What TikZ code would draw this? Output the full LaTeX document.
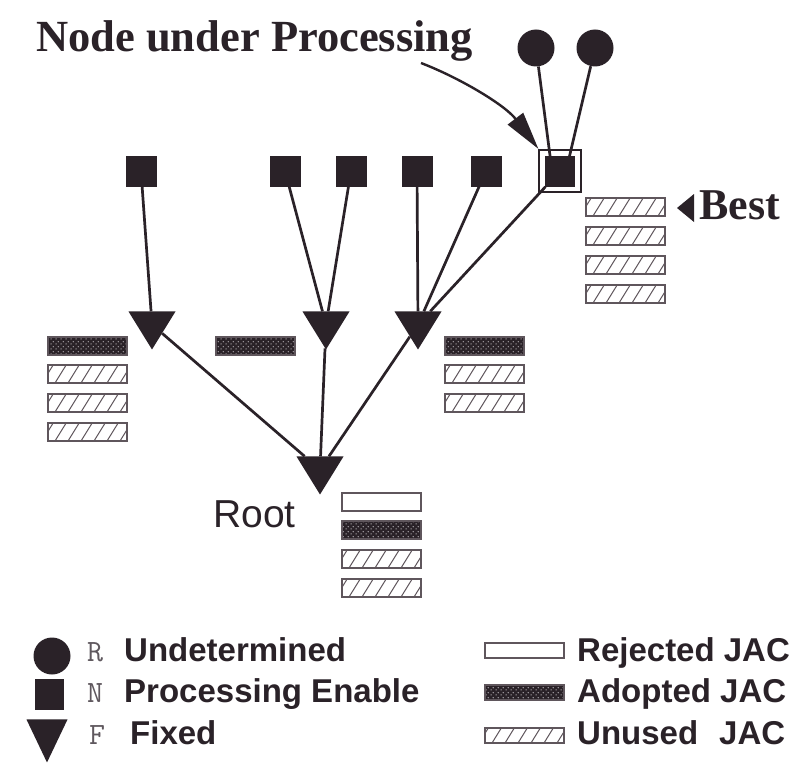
\documentclass[tikz,border=0pt]{standalone}
\usepackage{fontspec}
\usetikzlibrary{shapes.geometric,arrows.meta,patterns.meta,backgrounds,fit}
\newfontfamily\serifface{Liberation Serif}
\newfontfamily\sansface{Liberation Sans}
\definecolor{ink}{RGB}{42,34,40}
\definecolor{frameink}{RGB}{95,86,92}
\definecolor{dotc}{RGB}{190,186,190}
\definecolor{lettergray}{RGB}{95,88,94}
\tikzdeclarepattern{name=jacdots, type=uncolored,
  bounding box={(0pt,0pt) and (5pt,5pt)}, tile size={(5pt,5pt)},
  code={\pgfpathcircle{\pgfpoint{1.25pt}{1.25pt}}{0.75pt}\pgfpathcircle{\pgfpoint{3.75pt}{3.75pt}}{0.75pt}\pgfusepath{fill}}}
\tikzset{
  jach/.store in=\jach, jach=18,
  leaf/.style={circle, fill=ink, minimum size=37pt, inner sep=0pt},
  proc/.style={rectangle, fill=ink, minimum width=31pt, minimum height=31pt, inner sep=0pt},
  fixed/.style={isosceles triangle, isosceles triangle stretches, shape border rotate=270,
     fill=ink, inner sep=0pt, minimum width=47pt, minimum height=38pt},
  conn/.style={draw=ink, line width=2.7pt},
  boxframe/.style={draw=frameink, line width=1.1pt},
  hatchline/.style={draw=frameink, line width=1pt},
  titlefont/.style={font=\serifface\bfseries\fontsize{44.5}{48}\selectfont, text=ink},
  bestfont/.style={font=\serifface\bfseries\fontsize{44}{48}\selectfont, text=ink},
  rootfont/.style={font=\sansface\fontsize{39}{44}\selectfont, text=ink},
  legfont/.style={font=\sansface\bfseries\fontsize{33}{36}\selectfont, text=ink},
  letfont/.style={font=\ttfamily\fontsize{31}{34}\selectfont, text=lettergray},
  pics/rej/.style={code={\draw[boxframe, fill=white] (0,0) rectangle (79,\jach);}},
  pics/adp/.style={code={
     \fill[ink] (0,0) rectangle (79,\jach);
     \fill[pattern=jacdots, pattern color=dotc] (0,0) rectangle (79,\jach);
     \draw[boxframe] (0,0) rectangle (79,\jach);}},
  pics/unu/.style={code={
     \begin{scope}
       \clip (0,0) rectangle (79,\jach);
       \foreach \k in {0,...,6} {\draw[hatchline] (\k*13-6,\jach) -- ++(0.62*\jach,-\jach);}
     \end{scope}
     \draw[boxframe] (0,0) rectangle (79,\jach);}},
}
\begin{document}
\begin{tikzpicture}[x=1pt,y=-1pt]
\useasboundingbox (0,0) rectangle (799,765);

% title and arrow
\node[titlefont, anchor=base west, inner sep=0pt] (title) at (36,52) {Node under Processing};
\coordinate (arrowstart) at (421,63);

% undetermined nodes
\node[leaf] (r1) at (536,48) {};
\node[leaf] (r2) at (595,48) {};

% processing-enable nodes
\node[proc] (p1) at (141,171) {};
\node[proc] (p2) at (285,171) {};
\node[proc] (p3) at (351,171) {};
\node[proc] (p4) at (417,171) {};
\node[proc] (p5) at (486,171) {};
\node[proc, minimum width=30pt, minimum height=31pt] (p6) at (560,171) {};
\node[draw=ink, line width=1.8pt, fit=(p6), inner sep=5.5pt] (frame) {};

% fixed nodes
\node[fixed, anchor=apex] (t1) at (152,350) {};
\node[fixed, anchor=apex] (t2) at (326,350) {};
\node[fixed, anchor=apex] (t3) at (418,350) {};
\node[fixed, anchor=apex] (root) at (320,495) {};

\begin{pgfonlayer}{background}
\fill[white] (0,0) rectangle (799,765);
\draw[conn] (r1) -- ([xshift=-8pt]p6.center);
\draw[conn] (r2) -- ([xshift=6pt]p6.center);
\draw[conn] (p1) -- (t1);
\draw[conn] (p2) -- (t2);
\draw[conn] (p3) -- (t2);
\draw[conn] (p4) -- (t3);
\draw[conn] (p5) -- (t3);
\draw[conn] (p6) -- (t3);
\draw[conn] (t1) -- (root);
\draw[conn] (t2) -- (root);
\draw[conn] (t3) -- (root);
\end{pgfonlayer}

\draw[draw=ink, line width=2.4pt, -{Triangle[length=38pt,width=19pt]}]
  (arrowstart) .. controls (460,78) and (505,105) .. (frame.north west);

% JAC boxes
\pic at (48,337) {adp};
\pic at (48,365) {unu};
\pic at (48,394) {unu};
\pic at (48,423) {unu};
\pic at (216,337) {adp};
\pic at (445,337) {adp};
\pic at (445,365) {unu};
\pic at (445,394) {unu};
\pic at (586,198) {unu};
\pic at (586,227) {unu};
\pic at (586,256) {unu};
\pic at (586,285) {unu};
\pic at (342,493) {rej};
\pic at (342,521) {adp};
\pic at (342,550) {unu};
\pic at (342,579) {unu};

% labels
\fill[ink] (677,208) -- (694,194) -- (694,222) -- cycle;
\node[bestfont, anchor=base west, inner sep=0pt] (best) at (699,219) {Best};
\node[rootfont, anchor=base west, inner sep=0pt] (rootlbl) at (213,527) {Root};

% legend
\node[leaf, minimum size=37pt] (lr) at (52,656) {};
\node[proc, minimum width=29pt, minimum height=31pt] (ln) at (49,694) {};
\node[fixed, anchor=apex, minimum width=41pt, minimum height=43pt] (lf) at (47,763) {};
\node[letfont, anchor=base west, inner sep=0pt] (lrt) at (87,661) {R};
\node[letfont, anchor=base west, inner sep=0pt] (lnt) at (87,702) {N};
\node[letfont, anchor=base west, inner sep=0pt] (lft) at (89,744) {F};
\node[legfont, anchor=base west, inner sep=0pt] (lrl) at (124,661) {Undetermined};
\node[legfont, anchor=base west, inner sep=0pt] (lnl) at (124,702) {Processing Enable};
\node[legfont, anchor=base west, inner sep=0pt] (lfl) at (130,744) {Fixed};

\pic[jach=15] at (485,643) {rej};
\pic[jach=15] at (485,685) {adp};
\pic[jach=15] at (485,728) {unu};
\node[legfont, anchor=base west, inner sep=0pt] (l1) at (577,661) {Rejected JAC};
\node[legfont, anchor=base west, inner sep=0pt] (l2) at (577,702) {Adopted JAC};
\node[legfont, anchor=base west, inner sep=0pt] (l3) at (577,744) {Unused\hspace*{21pt}JAC};
\end{tikzpicture}
\end{document}
